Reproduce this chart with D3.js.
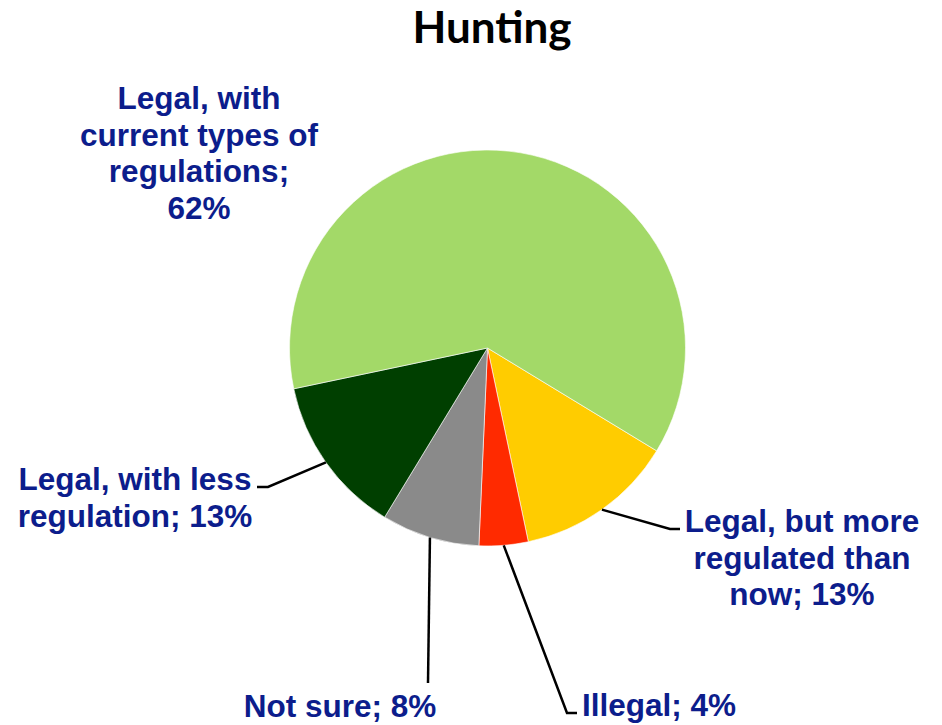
<!DOCTYPE html>
<html>
<head>
<meta charset="utf-8">
<script src="https://cdn.jsdelivr.net/npm/d3@7/dist/d3.min.js"></script>
<style>
  body { margin: 0; background: #fff; }
  svg { display: block; }
  .title { font-family: Lato, "Open Sans", sans-serif; font-weight: bold; font-size: 44px; fill: #000; }
  .label { font-family: "Liberation Sans", Arial, sans-serif; font-weight: bold; font-size: 31.5px; fill: #0c1d8c; }
  .leader { fill: none; stroke: #000; stroke-width: 2.5; }
</style>
</head>
<body>
<svg width="942" height="725"></svg>
<script>
// data, clockwise from the yellow slice
const categories = ["Legal, but more regulated than now", "Illegal", "Not sure", "Legal, with less regulation", "Legal, with current types of regulations"];
const values = [13, 4, 8, 13, 62];
const colors = ["#ffcc00", "#ff2a00", "#8a8a8a", "#003f00", "#a3d968"];
const labelLines = [
	["Legal, but more", "regulated than", "now; 13%"],
	["Illegal; 4%"],
	["Not sure; 8%"],
	["Legal, with less", "regulation; 13%"],
	["Legal, with", "current types of", "regulations;", "62%"]
];

const cx = 487.5, cy = 348, radius = 198,
	startAngle = 121.3 * Math.PI / 180,
	lineH = 36.7;

// where each label sits (text x, first baseline, anchor, leader end / elbow)
const labelLayout = [
	{x: 802, y: 532, anchor: "middle", end: [680, 529], elbow: [670, 529]},
	{x: 582, y: 716, anchor: "start", end: [577, 713], elbow: [567, 713]},
	{x: 340, y: 717, anchor: "middle", end: [428, 683], elbow: null},
	{x: 135, y: 490, anchor: "middle", end: [257, 487], elbow: [268, 487]},
	{x: 199, y: 109, anchor: "middle", end: null, elbow: null}
];

const svg = d3.select("svg");

svg.append("text")
	.attr("class", "title")
	.attr("x", 492)
	.attr("y", 43)
	.attr("text-anchor", "middle")
	.text("Hunting");

const pie = d3.pie()
	.sort(null)
	.startAngle(startAngle)
	.endAngle(startAngle + 2 * Math.PI);

const arcs = pie(values);

const arc = d3.arc()
	.innerRadius(0)
	.outerRadius(radius);

const edge = d3.arc()
	.innerRadius(radius)
	.outerRadius(radius);

const g = svg.append("g")
	.attr("transform", "translate(" + cx + "," + cy + ")");

g.selectAll("path.slice")
	.data(arcs)
	.enter().append("path")
	.attr("class", "slice")
	.attr("d", arc)
	.attr("fill", function(d, i) { return colors[i]; })
	.attr("stroke", "#fff")
	.attr("stroke-width", 0.6);

// leader lines from the middle of each slice edge
arcs.forEach(function(d, i) {
	const lay = labelLayout[i];
	if (!lay.end) return;
	const c = edge.centroid(d);
	const pts = [[cx + c[0], cy + c[1]]];
	if (lay.elbow) pts.push(lay.elbow);
	pts.push(lay.end);
	svg.append("path")
		.attr("class", "leader")
		.attr("d", d3.line()(pts));
});

// labels
labelLines.forEach(function(lines, i) {
	const lay = labelLayout[i];
	const t = svg.append("text")
		.attr("class", "label")
		.attr("text-anchor", lay.anchor);
	lines.forEach(function(s, k) {
		t.append("tspan")
			.attr("x", lay.x)
			.attr("y", lay.y + k * lineH)
			.text(s);
	});
});
</script>
</body>
</html>
